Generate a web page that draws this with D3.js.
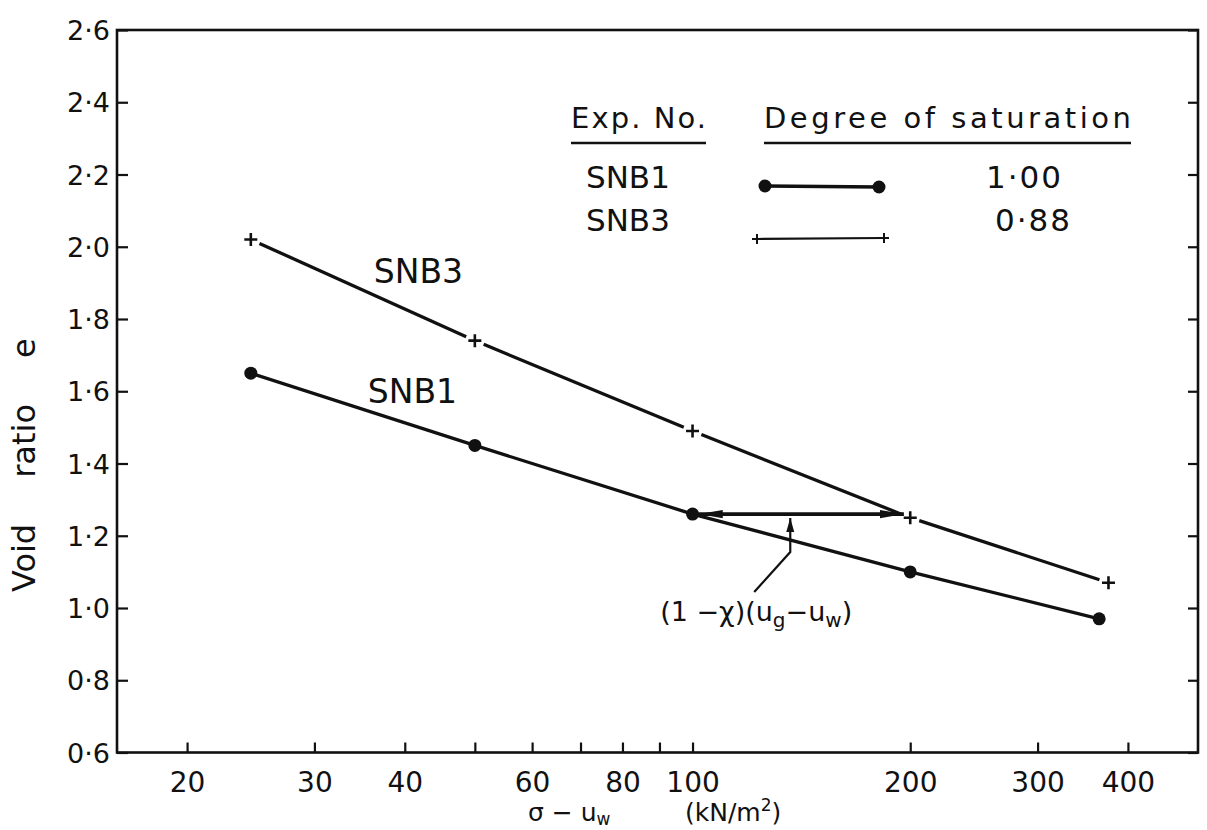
<!DOCTYPE html>
<html>
<head>
<meta charset="utf-8">
<script src="https://cdn.jsdelivr.net/npm/d3@7"></script>
<style>
  body { margin: 0; background: #fff; }
  text { font-family: "DejaVu Sans", sans-serif; fill: #111; }
</style>
</head>
<body>
<svg id="chart" width="1207" height="830"></svg>
<script>
// Void ratio against net stress (log scale) for two saturation levels
const stressSNB1 = [24.5, 50, 100, 200, 365];
const voidSNB1   = [1.65, 1.45, 1.26, 1.10, 0.97];
const stressSNB3 = [24.5, 50, 100, 200, 376];
const voidSNB3   = [2.02, 1.74, 1.49, 1.25, 1.07];

const xTickValues = [20, 30, 40, 50, 60, 70, 80, 90, 100, 200, 300, 400];
const xTickLabels = ["20", "30", "40", "", "60", "", "80", "", "100", "200", "300", "400"];
const yTickValues = [0.6, 0.8, 1.0, 1.2, 1.4, 1.6, 1.8, 2.0, 2.2, 2.4, 2.6];
const yTickLabels = ["0·6", "0·8", "1·0", "1·2", "1·4", "1·6", "1·8", "2·0", "2·2", "2·4", "2·6"];

const legendNames = ["SNB1", "SNB3"];
const legendSaturation = ["1·00", "0·88"];

// shift between the two curves at equal void ratio, and its leader
const shiftStress = [102, 196];
const shiftVoid = 1.26;
const leaderStress = [136.5, 136.5, 121.7];
const leaderVoid   = [1.249, 1.155, 1.044];
const shiftLabelAt = [90.2, 0.964];

const margin = { top: 30, left: 117 };
const width = 1081, height = 722.5;

const svg = d3.select("#chart");
const g = svg.append("g").attr("transform", `translate(${margin.left},${margin.top})`);

const x = d3.scaleLog().domain([16, 500]).range([0, width]);
const y = d3.scaleLinear().domain([0.6, 2.6]).range([height, 0]);

const ink = "#111";

// arrow heads
const defs = svg.append("defs");
defs.append("marker").attr("id", "headLong")
  .attr("markerUnits", "userSpaceOnUse")
  .attr("viewBox", "0 -5 24 10").attr("refX", 24).attr("refY", 0)
  .attr("markerWidth", 24).attr("markerHeight", 10)
  .attr("orient", "auto-start-reverse")
  .append("path").attr("d", "M0,-4.2L24,0L0,4.2Z").attr("fill", ink);
defs.append("marker").attr("id", "headShort")
  .attr("markerUnits", "userSpaceOnUse")
  .attr("viewBox", "0 -5 14 10").attr("refX", 14).attr("refY", 0)
  .attr("markerWidth", 14).attr("markerHeight", 10)
  .attr("orient", "auto")
  .append("path").attr("d", "M0,-4L14,0L0,4Z").attr("fill", ink);

// frame
g.append("rect").attr("x", 0).attr("y", 0).attr("width", width).attr("height", height)
  .attr("fill", "none").attr("stroke", ink).attr("stroke-width", 2.6);

// axes with inward ticks
const xAxis = g.append("g").attr("transform", `translate(0,${height})`)
  .call(d3.axisBottom(x).tickValues(xTickValues).tickSize(-10)
    .tickFormat((d, i) => xTickLabels[i]));
xAxis.select(".domain").remove();
xAxis.selectAll("line").attr("stroke", ink).attr("stroke-width", 2.2);
xAxis.selectAll("text").attr("y", 39).attr("dy", 0)
  .style("font-size", "28px").style("font-family", "DejaVu Sans").attr("fill", ink);

const yAxis = g.append("g")
  .call(d3.axisLeft(y).tickValues(yTickValues).tickSize(-11)
    .tickFormat((d, i) => yTickLabels[i]));
yAxis.select(".domain").remove();
yAxis.selectAll("line").attr("stroke", ink).attr("stroke-width", 2.2);
yAxis.selectAll("text").attr("x", -7).attr("dy", "0.36em")
  .style("font-size", "27px").style("font-family", "DejaVu Sans").attr("fill", ink);

const yAxisRight = g.append("g").attr("transform", `translate(${width},0)`)
  .call(d3.axisRight(y).tickValues(yTickValues).tickSize(-10).tickFormat(""));
yAxisRight.select(".domain").remove();
yAxisRight.selectAll("line").attr("stroke", ink).attr("stroke-width", 2.2);

// axis titles
svg.append("text")
  .attr("transform", "translate(35,592) rotate(-90)")
  .style("font-size", "32px")
  .call(t => {
    t.append("tspan").text("Void");
    t.append("tspan").attr("dx", 46).text("ratio");
    t.append("tspan").attr("dx", 46).text("e");
  });

svg.append("text").attr("x", 528).attr("y", 821).style("font-size", "25px")
  .call(t => {
    t.append("tspan").text("σ − u");
    t.append("tspan").attr("dy", 4).style("font-size", "17px").text("w");
  });
svg.append("text").attr("x", 685).attr("y", 821).style("font-size", "25px")
  .call(t => {
    t.append("tspan").text("(kN/m");
    t.append("tspan").attr("dy", -10).style("font-size", "17px").text("2");
    t.append("tspan").attr("dy", 10).text(")");
  });

// SNB1: continuous line through filled dots
const snb1 = stressSNB1.map((s, i) => [s, voidSNB1[i]]);
const snb3 = stressSNB3.map((s, i) => [s, voidSNB3[i]]);

g.append("path").datum(snb1)
  .attr("d", d3.line().x(d => x(d[0])).y(d => y(d[1])))
  .attr("fill", "none").attr("stroke", ink).attr("stroke-width", 3.3);
g.selectAll(".dot1").data(snb1).enter().append("circle")
  .attr("cx", d => x(d[0])).attr("cy", d => y(d[1])).attr("r", 6.5).attr("fill", ink);

// SNB3: line broken around each cross
const gap = 9.5;
const segs = d3.pairs(snb3).map(([a, b]) => {
  const x1 = x(a[0]), y1 = y(a[1]), x2 = x(b[0]), y2 = y(b[1]);
  const len = Math.hypot(x2 - x1, y2 - y1);
  const ux = (x2 - x1) / len, uy = (y2 - y1) / len;
  return [x1 + ux * gap, y1 + uy * gap, x2 - ux * gap, y2 - uy * gap];
});
g.selectAll(".seg3").data(segs).enter().append("line")
  .attr("x1", d => d[0]).attr("y1", d => d[1]).attr("x2", d => d[2]).attr("y2", d => d[3])
  .attr("stroke", ink).attr("stroke-width", 3.3);
const plus = "M-6.5,0H6.5M0,-6.5V6.5";
g.selectAll(".cross3").data(snb3).enter().append("path")
  .attr("transform", d => `translate(${x(d[0])},${y(d[1])})`)
  .attr("d", plus).attr("stroke", ink).attr("stroke-width", 2.6).attr("fill", "none");

// curve labels
g.append("text").attr("x", x(stressSNB3[0]) + 123).attr("y", 253).style("font-size", "33px").text("SNB3");
g.append("text").attr("x", x(stressSNB1[0]) + 117).attr("y", 373).style("font-size", "33px").text("SNB1");

// shift arrow
g.append("line")
  .attr("x1", x(shiftStress[0])).attr("x2", x(shiftStress[1]))
  .attr("y1", y(shiftVoid)).attr("y2", y(shiftVoid))
  .attr("stroke", ink).attr("stroke-width", 3.6)
  .attr("marker-start", "url(#headLong)").attr("marker-end", "url(#headLong)");

const leader = leaderStress.map((s, i) => [s, leaderVoid[i]]).reverse();
g.append("path").datum(leader)
  .attr("d", d3.line().x(d => x(d[0])).y(d => y(d[1])))
  .attr("fill", "none").attr("stroke", ink).attr("stroke-width", 2.2)
  .attr("marker-end", "url(#headShort)");

g.append("text").attr("x", x(shiftLabelAt[0])).attr("y", y(shiftLabelAt[1]))
  .style("font-size", "27px")
  .call(t => {
    t.append("tspan").text("(1 −χ)(u");
    t.append("tspan").attr("dy", 6).style("font-size", "20px").text("g");
    t.append("tspan").attr("dy", -6).text("−u");
    t.append("tspan").attr("dy", 6).style("font-size", "20px").text("w");
    t.append("tspan").attr("dy", -6).text(")");
  });

// legend
const lg = svg.append("g");
lg.append("text").attr("x", 571).attr("y", 128).style("font-size", "29px")
  .attr("textLength", 135).attr("lengthAdjust", "spacing").text("Exp. No.");
lg.append("text").attr("x", 764).attr("y", 128).style("font-size", "29px")
  .attr("textLength", 367).attr("lengthAdjust", "spacing").text("Degree of saturation");
lg.append("line").attr("x1", 571).attr("x2", 706).attr("y1", 143).attr("y2", 143)
  .attr("stroke", ink).attr("stroke-width", 2.4);
lg.append("line").attr("x1", 764).attr("x2", 1131).attr("y1", 143).attr("y2", 143)
  .attr("stroke", ink).attr("stroke-width", 2.4);

const rowY = [188, 231];
lg.selectAll(".lname").data(legendNames).enter().append("text")
  .attr("x", 586).attr("y", (d, i) => rowY[i]).style("font-size", "31px").text(d => d);
lg.selectAll(".lsat").data(legendSaturation).enter().append("text")
  .attr("x", (d, i) => i === 0 ? 986 : 995).attr("y", (d, i) => rowY[i])
  .style("font-size", "31px").attr("textLength", 75).attr("lengthAdjust", "spacing").text(d => d);

// legend sample: SNB1
lg.append("line").attr("x1", 765).attr("x2", 879).attr("y1", 186).attr("y2", 187)
  .attr("stroke", ink).attr("stroke-width", 3.4);
lg.selectAll(".ld").data([[765, 186], [879, 187]]).enter().append("circle")
  .attr("cx", d => d[0]).attr("cy", d => d[1]).attr("r", 6.5).attr("fill", ink);
// legend sample: SNB3
lg.append("line").attr("x1", 757).attr("x2", 884).attr("y1", 239).attr("y2", 238)
  .attr("stroke", ink).attr("stroke-width", 2.2);
lg.selectAll(".lp").data([[757, 239], [884, 238]]).enter().append("path")
  .attr("transform", d => `translate(${d[0]},${d[1]})`)
  .attr("d", "M-5,0H5M0,-5V5").attr("stroke", ink).attr("stroke-width", 2).attr("fill", "none");
</script>
</body>
</html>
